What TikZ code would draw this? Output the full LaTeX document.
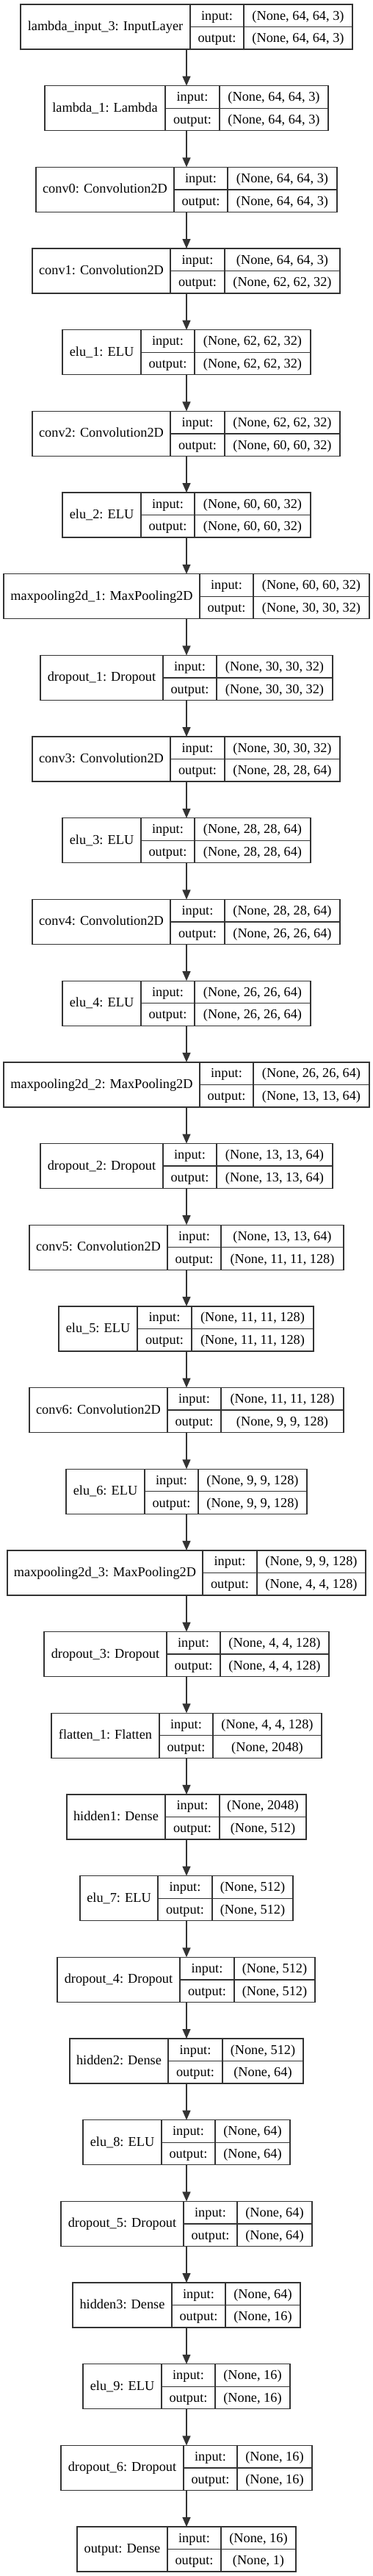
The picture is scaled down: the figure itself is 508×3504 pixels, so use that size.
\documentclass[tikz,border=0pt]{standalone}
\usepackage{fontspec}
\setmainfont{Liberation Serif}
\usetikzlibrary{arrows.meta}
\tikzset{
  boxline/.style={draw=black!80, line width=1.3pt},
  layerbox/.style={boxline, rectangle, inner sep=0pt, outer sep=0pt, minimum height=61pt},
  lbl/.style={inner sep=0pt, anchor=base, font=\fontsize{18.3}{22}\selectfont, text=black},
  flow/.style={draw=black!80, line width=1.3pt, -{Triangle[length=13pt,width=11pt]}},
}
% #1 index, #2 left, #3 divider1, #4 divider2, #5 right, #6 name, #7 input, #8 output
\newcommand{\kerasbox}[8]{%
  \pgfmathsetmacro{\kby}{6+110.68*(#1-1)}%
  \pgfmathsetmacro{\kbx}{(#2+#5)/2}%
  \pgfmathsetmacro{\kbw}{#5-#2}%
  \node[layerbox, minimum width=\kbw pt] (b#1) at (\kbx,\kby+30.5) {};
  \draw[boxline] (#3,\kby) -- (#3,\kby+61);
  \draw[boxline] (#4,\kby) -- (#4,\kby+61);
  \draw[boxline] (#3,\kby+30.5) -- (#5,\kby+30.5);
  \node[lbl] (b#1n) at ({(#2+#3)/2},\kby+35.5) {#6};
  \node[lbl] (b#1i) at ({(#3+#4)/2},\kby+21) {input:};
  \node[lbl] (b#1o) at ({(#3+#4)/2},\kby+51.8) {output:};
  \node[lbl] (b#1a) at ({(#4+#5)/2},\kby+21) {#7};
  \node[lbl] (b#1b) at ({(#4+#5)/2},\kby+51.8) {#8};
}
\begin{document}
\begin{tikzpicture}[x=1pt,y=-1pt]
\useasboundingbox (0,0) rectangle (508,3504);
\fill[white] (0,0) rectangle (508,3504);
\coordinate (axis) at (254,0);
\kerasbox{1}{28}{259}{332}{480}{lambda\_input\_3: InputLayer}{(None, 64, 64, 3)}{(None, 64, 64, 3)}
\kerasbox{2}{61}{225}{299}{447}{lambda\_1: Lambda}{(None, 64, 64, 3)}{(None, 64, 64, 3)}
\kerasbox{3}{49}{237}{310}{459}{conv0: Convolution2D}{(None, 64, 64, 3)}{(None, 64, 64, 3)}
\kerasbox{4}{44}{232}{306}{463}{conv1: Convolution2D}{(None, 64, 64, 3)}{(None, 62, 62, 32)}
\kerasbox{5}{85}{192}{265}{423}{elu\_1: ELU}{(None, 62, 62, 32)}{(None, 62, 62, 32)}
\kerasbox{6}{44}{232}{306}{463}{conv2: Convolution2D}{(None, 62, 62, 32)}{(None, 60, 60, 32)}
\kerasbox{7}{85}{192}{265}{423}{elu\_2: ELU}{(None, 60, 60, 32)}{(None, 60, 60, 32)}
\kerasbox{8}{5}{272}{345}{503}{maxpooling2d\_1: MaxPooling2D}{(None, 60, 60, 32)}{(None, 30, 30, 32)}
\kerasbox{9}{55}{222}{295}{453}{dropout\_1: Dropout}{(None, 30, 30, 32)}{(None, 30, 30, 32)}
\kerasbox{10}{44}{232}{306}{463}{conv3: Convolution2D}{(None, 30, 30, 32)}{(None, 28, 28, 64)}
\kerasbox{11}{85}{192}{265}{423}{elu\_3: ELU}{(None, 28, 28, 64)}{(None, 28, 28, 64)}
\kerasbox{12}{44}{232}{306}{463}{conv4: Convolution2D}{(None, 28, 28, 64)}{(None, 26, 26, 64)}
\kerasbox{13}{85}{192}{265}{423}{elu\_4: ELU}{(None, 26, 26, 64)}{(None, 26, 26, 64)}
\kerasbox{14}{5}{272}{345}{503}{maxpooling2d\_2: MaxPooling2D}{(None, 26, 26, 64)}{(None, 13, 13, 64)}
\kerasbox{15}{55}{222}{295}{453}{dropout\_2: Dropout}{(None, 13, 13, 64)}{(None, 13, 13, 64)}
\kerasbox{16}{40}{228}{301}{468}{conv5: Convolution2D}{(None, 13, 13, 64)}{(None, 11, 11, 128)}
\kerasbox{17}{80}{187}{261}{427}{elu\_5: ELU}{(None, 11, 11, 128)}{(None, 11, 11, 128)}
\kerasbox{18}{40}{228}{301}{468}{conv6: Convolution2D}{(None, 11, 11, 128)}{(None, 9, 9, 128)}
\kerasbox{19}{90}{197}{270}{418}{elu\_6: ELU}{(None, 9, 9, 128)}{(None, 9, 9, 128)}
\kerasbox{20}{10}{276}{350}{498}{maxpooling2d\_3: MaxPooling2D}{(None, 9, 9, 128)}{(None, 4, 4, 128)}
\kerasbox{21}{60}{227}{300}{448}{dropout\_3: Dropout}{(None, 4, 4, 128)}{(None, 4, 4, 128)}
\kerasbox{22}{70}{217}{290}{438}{flatten\_1: Flatten}{(None, 4, 4, 128)}{(None, 2048)}
\kerasbox{23}{91}{225}{299}{417}{hidden1: Dense}{(None, 2048)}{(None, 512)}
\kerasbox{24}{109}{215}{289}{399}{elu\_7: ELU}{(None, 512)}{(None, 512)}
\kerasbox{25}{78}{245}{319}{429}{dropout\_4: Dropout}{(None, 512)}{(None, 512)}
\kerasbox{26}{95}{229}{303}{413}{hidden2: Dense}{(None, 512)}{(None, 64)}
\kerasbox{27}{113}{220}{293}{395}{elu\_8: ELU}{(None, 64)}{(None, 64)}
\kerasbox{28}{83}{250}{323}{425}{dropout\_5: Dropout}{(None, 64)}{(None, 64)}
\kerasbox{29}{99}{234}{307}{409}{hidden3: Dense}{(None, 64)}{(None, 16)}
\kerasbox{30}{113}{220}{293}{395}{elu\_9: ELU}{(None, 16)}{(None, 16)}
\kerasbox{31}{83}{250}{323}{425}{dropout\_6: Dropout}{(None, 16)}{(None, 16)}
\kerasbox{32}{105}{228}{301}{403}{output: Dense}{(None, 16)}{(None, 1)}
\foreach \i [evaluate=\i as \j using int(\i+1)] in {1,...,31}
  \draw[flow] (b\i.south -| axis) -- (b\j.north -| axis);
\end{tikzpicture}
\end{document}
